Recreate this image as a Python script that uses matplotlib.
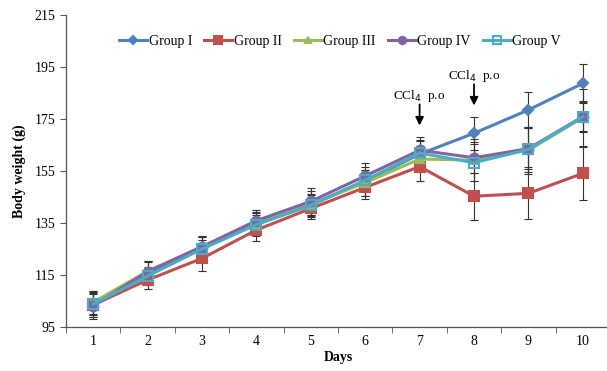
import numpy as np
import matplotlib.pyplot as plt

plt.rcParams['font.family'] = ['Liberation Serif', 'DejaVu Serif']

# data
days = [1, 2, 3, 4, 5, 6, 7, 8, 9, 10]
group_names = ['Group I', 'Group II', 'Group III', 'Group IV', 'Group V']

g1 = [103.8, 115.5, 125.5, 134.6, 142.0, 151.0, 161.5, 169.5, 178.5, 188.7]
g2 = [103.5, 113.1, 121.4, 132.3, 140.6, 148.7, 156.7, 145.3, 146.4, 154.1]
g3 = [104.5, 116.5, 125.8, 134.8, 142.2, 150.5, 159.6, 159.2, 163.0, 175.5]
g4 = [103.2, 116.3, 125.9, 135.9, 143.3, 153.1, 163.0, 160.1, 163.6, 175.9]
g5 = [103.8, 114.6, 125.0, 134.4, 141.8, 151.5, 161.9, 158.2, 163.3, 175.9]

e1 = [5.0, 4.5, 4.0, 4.5, 5.5, 5.5, 5.5, 6.4, 7.0, 7.5]
e2 = [4.5, 3.5, 4.7, 4.3, 3.2, 4.5, 5.5, 9.0, 10.0, 10.3]
e3 = [4.5, 3.8, 4.2, 4.0, 4.0, 5.0, 5.0, 8.0, 9.0, 11.0]
e4 = [5.2, 4.0, 3.8, 4.2, 5.3, 5.0, 5.0, 6.0, 8.0, 6.0]
e5 = [4.0, 3.5, 3.5, 3.8, 4.0, 4.0, 4.5, 7.0, 8.5, 5.5]

series = [g1, g2, g3, g4, g5]
errors = [e1, e2, e3, e4, e5]
colors = ['#4F81BD', '#C0504D', '#9BBB59', '#8064A2', '#4BACC6']
markers = ['D', 's', '^', 'o', 's']
msizes = [5, 7, 6, 7, 7]

fig = plt.figure(figsize=(6.07, 3.71), dpi=100)
ax = fig.add_axes([66 / 607, 1 - 327 / 371, 544 / 607, 312 / 371])

for i in range(5):
    ax.errorbar(days, series[i], yerr=errors[i], fmt='none', ecolor='#333333',
                elinewidth=0.8, capsize=3, capthick=0.8, zorder=2)
for i in range(5):
    face = 'none' if i == 4 else colors[i]
    ax.plot(days, series[i], color=colors[i], marker=markers[i], markersize=msizes[i],
            markerfacecolor=face, markeredgecolor=colors[i], markeredgewidth=1.5,
            linewidth=2.2, label=group_names[i], zorder=3)

ax.set_xlim(0.5, 10.5)
ax.set_ylim(95, 215)
ax.set_yticks(np.arange(95, 216, 20))
ax.set_xticks(days)
ax.set_xticks(np.arange(0.5, 10.6, 1), minor=True)
ax.tick_params(axis='x', which='major', length=0, labelsize=10, pad=6)
ax.tick_params(axis='x', which='minor', length=4, direction='out', color='#555555')
ax.tick_params(axis='y', length=4, direction='out', color='#555555', labelsize=10)

for s in ['top', 'right']:
    ax.spines[s].set_visible(False)
for s in ['left', 'bottom']:
    ax.spines[s].set_color('#555555')
    ax.spines[s].set_linewidth(0.9)

ax.set_xlabel('Days', fontsize=10, fontweight='bold', labelpad=2)
ax.set_ylabel('Body weight (g)', fontsize=10, fontweight='bold', labelpad=6)

# CCl4 annotations
arrow = dict(arrowstyle='-|>', color='black', lw=1.3, mutation_scale=12,
             shrinkA=0, shrinkB=0)
ax.annotate('', xy=(7, 172.5), xytext=(7, 180.6), arrowprops=arrow)
ax.text(7, 184.0, r'CCl$_4$  p.o', ha='center', va='center', fontsize=9.5)
ax.annotate('', xy=(8, 180.2), xytext=(8, 188.3), arrowprops=arrow)
ax.text(8, 191.6, r'CCl$_4$  p.o', ha='center', va='center', fontsize=9.5)

ax.legend(loc='center', bbox_to_anchor=(0.504, 0.914), ncol=5, frameon=False,
          fontsize=10, handlelength=2.0, handletextpad=0.1, columnspacing=0.9,
          markerscale=0.75, borderaxespad=0)

fig.savefig('out.png', dpi=100)
